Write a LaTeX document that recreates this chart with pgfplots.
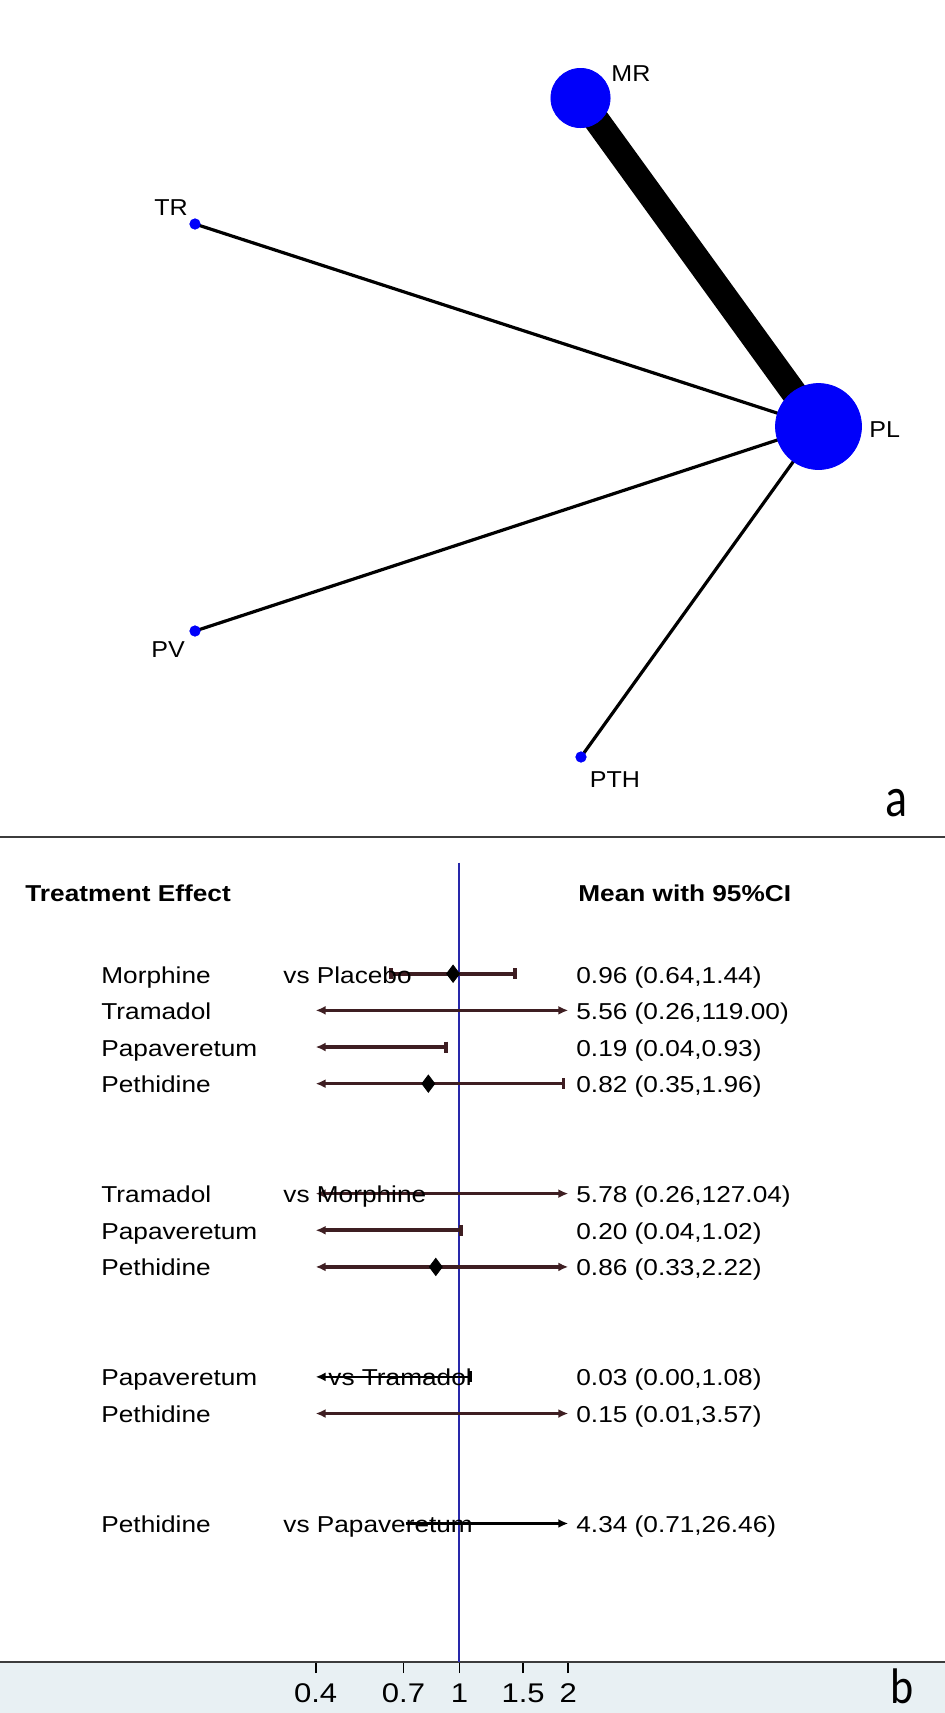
\documentclass[border=0pt]{standalone}
\usepackage{pgfplots}
\pgfplotsset{compat=1.18}
\usepackage{fontspec}
\setmainfont{Liberation Sans}
\newfontfamily\carlito{Carlito}
\usetikzlibrary{arrows.meta}
\definecolor{netblue}{RGB}{0,0,250}
\definecolor{cibar}{RGB}{62,30,34}
\definecolor{refline}{RGB}{40,40,170}
\definecolor{band}{RGB}{232,240,243}
\definecolor{rulec}{RGB}{60,60,60}
\tikzset{LA/.tip={Latex[length=5pt,width=4.5pt]}, CP/.tip={Bar[width=5.5pt]}}
\newcommand{\sx}[1]{\scalebox{1.14}[1]{#1}}
\newcommand{\nx}[1]{\scalebox{1.09}[1]{#1}}
\begin{document}
\begin{tikzpicture}[x=0.5pt,y=-0.5pt]
\path[use as bounding box] (0,0) rectangle (945,1713);
\fill[band] (0,1662) rectangle (945,1713);
% ---------- panel a: network ----------
\begin{axis}[at={(0pt,0pt)}, anchor=north west, width=472.5pt, height=418.5pt,
  scale only axis, xmin=0, xmax=945, ymin=0, ymax=837, y dir=reverse,
  hide axis, clip=false]
\addplot[black, line width=13pt] coordinates {(580.5,98) (818.5,426.5)};
\addplot[black, line width=1.6pt] coordinates {(195,224) (818.5,426.5)};
\addplot[black, line width=1.6pt] coordinates {(195,631) (818.5,426.5)};
\addplot[black, line width=1.6pt] coordinates {(581,757) (818.5,426.5)};
\addplot[only marks, mark=*, mark size=21.5pt, netblue] coordinates {(818.5,426.5)};
\addplot[only marks, mark=*, mark size=14.8pt, netblue] coordinates {(580.5,98)};
\addplot[only marks, mark=*, mark size=2.6pt, netblue] coordinates {(195,224) (195,631) (581,757)};
\end{axis}
\begin{scope}[every node/.style={inner sep=0pt, anchor=base west, font=\fontsize{11.5}{13}\selectfont}]
\node at (611,81) {\nx{MR}};
\node at (154,215) {\nx{TR}};
\node at (869,437) {\nx{PL}};
\node at (151,657) {\nx{PV}};
\node at (589.5,787) {\nx{PTH}};
\end{scope}
\node[inner sep=0pt, anchor=base, font=\carlito\fontsize{28}{32}\selectfont] at (896,816) {\scalebox{0.82}[1]{a}};
\draw[rulec, line width=1pt] (0,837) -- (945,837);
% ---------- panel b: forest plot ----------
\begin{axis}[at={(0pt,-418.5pt)}, anchor=north west, width=472.5pt, height=412.5pt,
  scale only axis, xmode=log, xmin=0.05358, xmax=22.03, ymin=-18.78, ymax=3.73,
  axis y line=none, axis x line*=bottom,
  x axis line style={-, draw=rulec, line width=1.3pt},
  xtick={0.4,0.7,1,1.5,2},
  xticklabels={\scalebox{1.15}[1]{0.4},\scalebox{1.15}[1]{0.7},\scalebox{1.15}[1]{1},\scalebox{1.15}[1]{1.5},\scalebox{1.15}[1]{2}},
  minor xtick={}, tick align=outside, major tick length=5.5pt,
  every tick/.style={black, line width=0.9pt},
  xticklabel style={font=\fontsize{13.5}{15}\selectfont, yshift=-2pt},
  /pgf/number format/assume math mode=true, clip=false]
\addplot[refline, line width=1pt] coordinates {(1,3.03) (1,-18.78)};
% Morphine vs Placebo 0.96 (0.64,1.44)
\addplot[cibar, line width=1.8pt, arrows={CP-CP}] coordinates {(0.64,0) (1.44,0)};
% Tramadol 5.56 (0.26,119.00)
\addplot[cibar, line width=1.8pt, arrows={LA-LA}] coordinates {(0.4,-1) (2,-1)};
% Papaveretum 0.19 (0.04,0.93)
\addplot[cibar, line width=1.8pt, arrows={LA-CP}] coordinates {(0.4,-2) (0.93,-2)};
% Pethidine 0.82 (0.35,1.96)
\addplot[cibar, line width=1.8pt, arrows={LA-CP}] coordinates {(0.4,-3) (1.96,-3)};
% Tramadol vs Morphine 5.78 (0.26,127.04)
\addplot[cibar, line width=1.8pt, arrows={LA-LA}] coordinates {(0.4,-6) (2,-6)};
% Papaveretum 0.20 (0.04,1.02)
\addplot[cibar, line width=1.8pt, arrows={LA-CP}] coordinates {(0.4,-7) (1.02,-7)};
% Pethidine 0.86 (0.33,2.22)
\addplot[cibar, line width=1.8pt, arrows={LA-LA}] coordinates {(0.4,-8) (2,-8)};
% Papaveretum vs Tramadol 0.03 (0.00,1.08)
\addplot[black, line width=1.1pt, arrows={LA-CP}] coordinates {(0.4,-11) (1.08,-11)};
% Pethidine 0.15 (0.01,3.57)
\addplot[cibar, line width=1.8pt, arrows={LA-LA}] coordinates {(0.4,-12) (2,-12)};
% Pethidine vs Papaveretum 4.34 (0.71,26.46)
\addplot[black, line width=1.1pt, arrows={-LA}] coordinates {(0.71,-15) (2,-15)};
% point estimates inside the window
\addplot[only marks, mark=diamond*, mark size=4.3pt, black] coordinates {(0.96,0) (0.82,-3) (0.86,-8)};
\end{axis}
\begin{scope}[every node/.style={inner sep=0pt, anchor=base west, font=\fontsize{11.5}{13}\selectfont}]
\node[font=\fontsize{11.5}{13}\selectfont\bfseries] at (25,901.7) {\sx{Treatment Effect}};
\node[font=\fontsize{11.5}{13}\selectfont\bfseries] at (578,901.7) {\sx{Mean with 95\%CI}};
% rows
\node at (101,983) {\sx{Morphine}};
\node at (283,983) {\sx{vs Placebo}};
\node at (576,983) {\sx{0.96 (0.64,1.44)}};
\node at (101,1019.6) {\sx{Tramadol}};
\node at (576,1019.6) {\sx{5.56 (0.26,119.00)}};
\node at (101,1056.2) {\sx{Papaveretum}};
\node at (576,1056.2) {\sx{0.19 (0.04,0.93)}};
\node at (101,1092.8) {\sx{Pethidine}};
\node at (576,1092.8) {\sx{0.82 (0.35,1.96)}};
\node at (101,1202.6) {\sx{Tramadol}};
\node at (283,1202.6) {\sx{vs Morphine}};
\node at (576,1202.6) {\sx{5.78 (0.26,127.04)}};
\node at (101,1239.2) {\sx{Papaveretum}};
\node at (576,1239.2) {\sx{0.20 (0.04,1.02)}};
\node at (101,1275.8) {\sx{Pethidine}};
\node at (576,1275.8) {\sx{0.86 (0.33,2.22)}};
\node at (101,1385.6) {\sx{Papaveretum}};
\node at (328,1385.6) {\sx{vs Tramadol}};
\node at (576,1385.6) {\sx{0.03 (0.00,1.08)}};
\node at (101,1422.2) {\sx{Pethidine}};
\node at (576,1422.2) {\sx{0.15 (0.01,3.57)}};
\node at (101,1532) {\sx{Pethidine}};
\node at (283,1532) {\sx{vs Papaveretum}};
\node at (576,1532) {\sx{4.34 (0.71,26.46)}};
\end{scope}
\node[inner sep=0pt, anchor=base, font=\carlito\fontsize{25}{28}\selectfont] at (902,1703) {\scalebox{0.88}[1]{b}};
\end{tikzpicture}
\end{document}
